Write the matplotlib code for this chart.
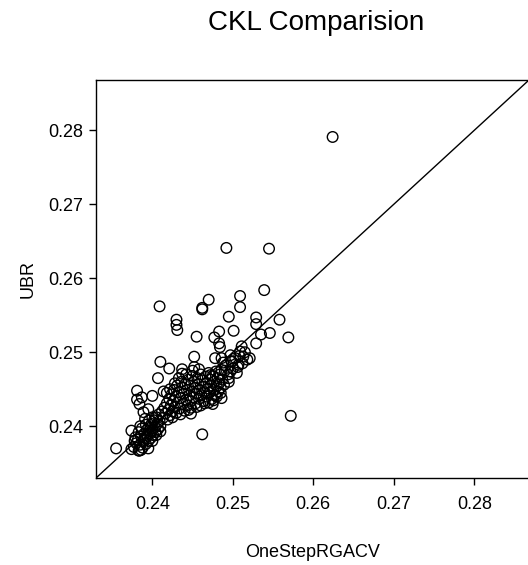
from matplotlib import pyplot as plt

plt.rcParams["font.family"] = ["Liberation Sans", "DejaVu Sans"]

# sparse points / outliers
onestep_sparse = [
    0.2624, 0.2492, 0.2545, 0.2539, 0.2409, 0.2470, 0.2462, 0.2462, 0.2509, 0.2509,
    0.2495, 0.2529, 0.2529, 0.2558, 0.2430, 0.2430, 0.2431, 0.2483, 0.2501, 0.2455,
    0.2477, 0.2535, 0.2546, 0.2569, 0.2483, 0.2484, 0.2529, 0.2511, 0.2452, 0.2478,
    0.2486, 0.2497, 0.2521, 0.2410, 0.2421, 0.2437, 0.2437, 0.2452, 0.2507, 0.2506,
    0.2497, 0.2495, 0.2495, 0.2486, 0.2407, 0.2381, 0.2381, 0.2384, 0.2387, 0.2400,
    0.2414, 0.2572, 0.2462, 0.2355, 0.2374, 0.2374, 0.2383, 0.2384, 0.2486, 0.2476,
    0.2499, 0.2509, 0.2513, 0.2472,
]
ubr_sparse = [
    0.2791, 0.2641, 0.2640, 0.2584, 0.2562, 0.2571, 0.2558, 0.2560, 0.2576, 0.2561,
    0.2548, 0.2547, 0.2538, 0.2544, 0.2544, 0.2537, 0.2530, 0.2528, 0.2529, 0.2521,
    0.2520, 0.2524, 0.2526, 0.2520, 0.2512, 0.2507, 0.2512, 0.2508, 0.2494, 0.2492,
    0.2492, 0.2496, 0.2492, 0.2487, 0.2478, 0.2477, 0.2471, 0.2480, 0.2483, 0.2480,
    0.2474, 0.2465, 0.2460, 0.2476, 0.2465, 0.2448, 0.2436, 0.2430, 0.2439, 0.2441,
    0.2447, 0.2414, 0.2389, 0.2370, 0.2394, 0.2369, 0.2367, 0.2367, 0.2438, 0.2435,
    0.2487, 0.2501, 0.2494, 0.2469,
]

# dense lower cluster
onestep_low = [
    0.2377, 0.2380, 0.2382, 0.2385, 0.2386, 0.2388, 0.2389, 0.2390, 0.2391, 0.2392,
    0.2393, 0.2394, 0.2395, 0.2396, 0.2397, 0.2398, 0.2399, 0.2400, 0.2401, 0.2402,
    0.2403, 0.2404, 0.2405, 0.2406, 0.2407, 0.2408, 0.2409, 0.2410, 0.2383, 0.2387,
    0.2392, 0.2396, 0.2386, 0.2379, 0.2391, 0.2412, 0.2389, 0.2395,
    0.2378, 0.2395, 0.2400, 0.2405, 0.2385, 0.2400, 0.2410,
]
ubr_low = [
    0.2372, 0.2377, 0.2382, 0.2375, 0.2386, 0.2371, 0.2380, 0.2390, 0.2384, 0.2376,
    0.2395, 0.2387, 0.2380, 0.2399, 0.2391, 0.2384, 0.2403, 0.2395, 0.2388, 0.2408,
    0.2399, 0.2392, 0.2412, 0.2403, 0.2396, 0.2416, 0.2407, 0.2400, 0.2392, 0.2397,
    0.2402, 0.2408, 0.2368, 0.2385, 0.2410, 0.2420, 0.2419, 0.2423,
    0.2380, 0.2370, 0.2380, 0.2388, 0.2400, 0.2412, 0.2393,
]

# dense main cluster
onestep_main = [
    0.2413, 0.2415, 0.2416, 0.2418, 0.2419, 0.2420, 0.2421, 0.2422, 0.2423, 0.2424,
    0.2425, 0.2426, 0.2427, 0.2428, 0.2429, 0.2430, 0.2431, 0.2432, 0.2433, 0.2434,
    0.2435, 0.2436, 0.2437, 0.2438, 0.2439, 0.2440, 0.2441, 0.2442, 0.2443, 0.2444,
    0.2445, 0.2446, 0.2447, 0.2448, 0.2449, 0.2450, 0.2451, 0.2452, 0.2453, 0.2454,
    0.2455, 0.2456, 0.2457, 0.2458, 0.2459, 0.2460, 0.2461, 0.2462, 0.2463, 0.2464,
    0.2465, 0.2466, 0.2467, 0.2468, 0.2469, 0.2470, 0.2471, 0.2472, 0.2473, 0.2474,
    0.2475, 0.2476, 0.2477, 0.2478, 0.2479, 0.2480, 0.2481, 0.2482, 0.2483, 0.2484,
    0.2485, 0.2487, 0.2489, 0.2490, 0.2425, 0.2435, 0.2445, 0.2455, 0.2465, 0.2448,
    0.2491, 0.2494, 0.2498, 0.2500, 0.2503, 0.2505, 0.2508, 0.2512, 0.2515, 0.2518,
    0.2488, 0.2428, 0.2433, 0.2442, 0.2450, 0.2458, 0.2418, 0.2422, 0.2448, 0.2460,
    0.2470, 0.2480, 0.2485, 0.2475,
]
ubr_main = [
    0.2411, 0.2425, 0.2417, 0.2431, 0.2409, 0.2422, 0.2437, 0.2415, 0.2428, 0.2443,
    0.2420, 0.2434, 0.2449, 0.2426, 0.2440, 0.2418, 0.2455, 0.2432, 0.2446, 0.2424,
    0.2438, 0.2460, 0.2452, 0.2430, 0.2444, 0.2421, 0.2457, 0.2436, 0.2449, 0.2428,
    0.2463, 0.2442, 0.2455, 0.2434, 0.2447, 0.2468, 0.2439, 0.2460, 0.2452, 0.2431,
    0.2444, 0.2465, 0.2457, 0.2437, 0.2449, 0.2470, 0.2442, 0.2462, 0.2453, 0.2434,
    0.2446, 0.2467, 0.2458, 0.2440, 0.2451, 0.2472, 0.2445, 0.2463, 0.2455, 0.2437,
    0.2468, 0.2449, 0.2460, 0.2442, 0.2474, 0.2454, 0.2465, 0.2447, 0.2458, 0.2470,
    0.2452, 0.2463, 0.2456, 0.2475, 0.2412, 0.2416, 0.2422, 0.2426, 0.2431, 0.2417,
    0.2482, 0.2470, 0.2488, 0.2478, 0.2492, 0.2472, 0.2495, 0.2485, 0.2500, 0.2490,
    0.2486, 0.2458, 0.2465, 0.2470, 0.2475, 0.2477, 0.2445, 0.2450, 0.2425, 0.2428,
    0.2432, 0.2440, 0.2445, 0.2430,
]

ticks = [0.24, 0.25, 0.26, 0.27, 0.28]
lims = (0.2330, 0.2868)

x = onestep_sparse + onestep_low + onestep_main
y = ubr_sparse + ubr_low + ubr_main

fig = plt.figure(figsize=(5.28, 5.65), dpi=100)
ax = fig.add_axes([96 / 528, 1 - 478 / 565, 433 / 528, 398 / 565])

ax.scatter(x, y, s=58, facecolors="none", edgecolors="black", linewidths=1.0)
ax.plot(lims, lims, color="black", linewidth=1.0)

ax.set_xlim(lims)
ax.set_ylim(lims)
ax.set_xticks(ticks)
ax.set_yticks(ticks)
ax.set_xticklabels([f"{t:.2f}" for t in ticks])
ax.set_yticklabels([f"{t:.2f}" for t in ticks])
ax.tick_params(axis="both", direction="out", length=5, width=1.0, labelsize=13)
ax.tick_params(axis="x", pad=8)
ax.tick_params(axis="y", pad=4)
for s in ax.spines.values():
    s.set_linewidth(1.0)

ax.set_xlabel("OneStepRGACV", fontsize=13)
ax.set_ylabel("UBR", fontsize=13)
ax.xaxis.set_label_coords(0.5, -0.165)
ax.yaxis.set_label_coords(-0.136, 0.5)

fig.text(316 / 528, 1 - 23 / 565, "CKL Comparision", fontsize=20,
         ha="center", va="center")

plt.savefig("out.png", dpi=100)
plt.close(fig)
